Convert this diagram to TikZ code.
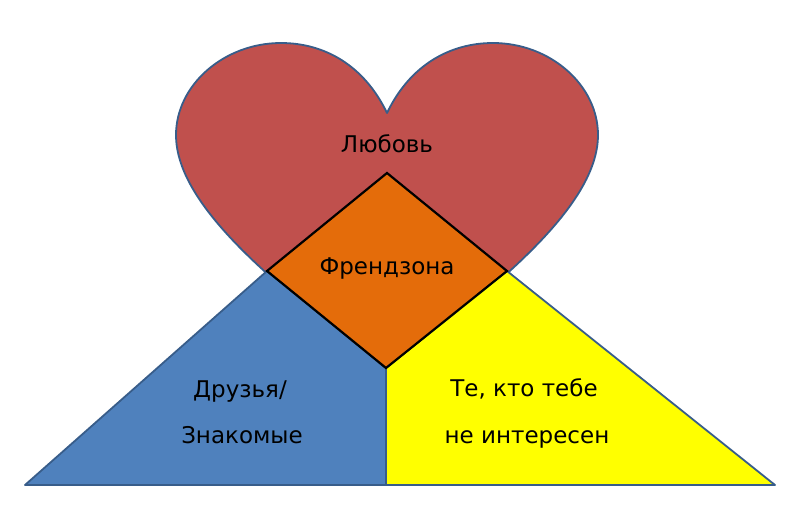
\documentclass[tikz,border=0pt]{standalone}
\usepackage{fontspec}
\setmainfont{DejaVu Sans}
\usepackage{tikz}
\usetikzlibrary{positioning}

\definecolor{heartred}{HTML}{C0504D}
\definecolor{edgeblue}{HTML}{385D8A}
\definecolor{friendblue}{HTML}{4F81BD}
\definecolor{otheryellow}{HTML}{FFFF00}
\definecolor{zoneorange}{HTML}{E46C0A}

\begin{document}
\begin{tikzpicture}[x=1pt,y=-1pt,
    region/.style={draw=edgeblue,line width=1.8pt,line join=round},
    label/.style={font=\fontsize{23}{26}\selectfont,anchor=base,inner sep=0pt}]
  \useasboundingbox (0,0) rectangle (800,530);
  % heart
  \coordinate (cusp) at (387,113);
  \coordinate (tip) at (387,370);
  \filldraw[region,fill=heartred] (cusp)
    .. controls (410,65) and (450,43) .. (493,43)
    .. controls (550,43) and (598,85) .. (598,135)
    .. controls (598,205) and (500,285) .. (tip)
    .. controls (274,285) and (176,205) .. (176,135)
    .. controls (176,85) and (224,43) .. (281,43)
    .. controls (324,43) and (364,65) .. (cusp) -- cycle;
  % triangle halves
  \coordinate (bl) at (25,485);
  \coordinate (br) at (775,485);
  \coordinate (bm) at (386,485);
  \coordinate (dt) at (387,173);
  \coordinate (dr) at (507,271);
  \coordinate (db) at (386,368);
  \coordinate (dl) at (267,271);
  \filldraw[region,fill=friendblue] (bl) -- (dl) -- (db) -- (bm) -- cycle;
  \filldraw[region,fill=otheryellow] (bm) -- (db) -- (dr) -- (br) -- cycle;
  \draw[edgeblue,line width=1.8pt] (db) -- (bm);
  % friendzone
  \filldraw[fill=zoneorange,draw=black,line width=2.2pt,line join=miter]
    (dt) -- (dr) -- (db) -- (dl) -- cycle;
  % texts
  \node[label] (love) at (387,152) {Любовь};
  \node[label] (zone) at (387,274) {Френдзона};
  \node[label] (friends1) at (240,397) {Друзья/};
  \node[label] (friends2) at (242,443) {Знакомые};
  \node[label] (others1) at (524,396) {Те, кто тебе};
  \node[label] (others2) at (527,443) {не интересен};
\end{tikzpicture}
\end{document}
